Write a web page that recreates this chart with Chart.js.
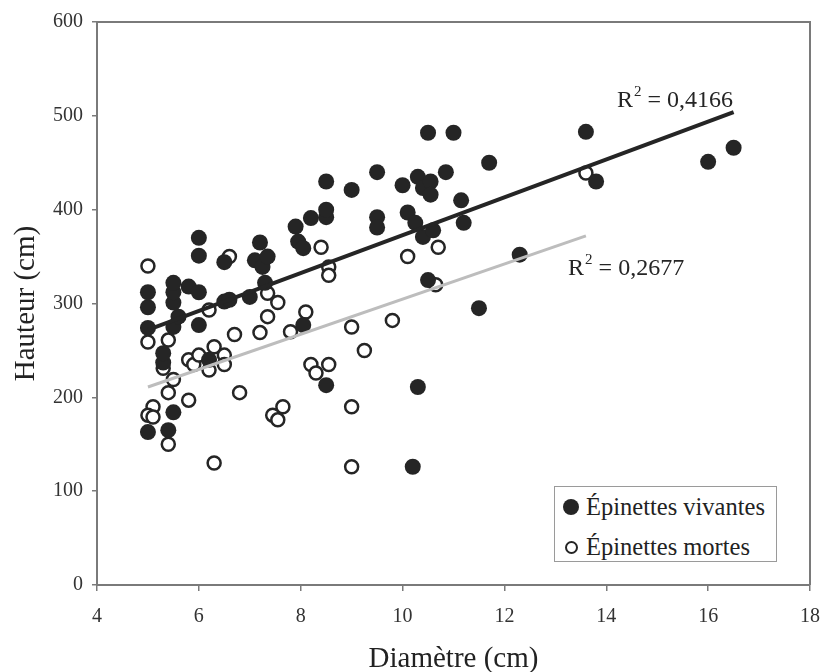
<!DOCTYPE html>
<html>
<head>
<meta charset="utf-8">
<script src="https://cdn.jsdelivr.net/npm/chart.js@4.4.0/dist/chart.umd.min.js"></script>
<style>
  body { margin: 0; background: #fff; }
  #wrap { position: relative; width: 824px; height: 672px; }
  #legend {
    position: absolute; left: 554px; top: 486px; width: 223px; height: 76px;
    border: 1px solid #9a9a9a; box-sizing: border-box; background: #fff;
    font-family: "Liberation Serif", serif; font-size: 24.5px; color: #222;
  }
  .row { position: absolute; left: 0; height: 30px; display: flex; align-items: center; white-space: nowrap; }
  .dot { border-radius: 50%; box-sizing: border-box; }
</style>
</head>
<body>
<div id="wrap">
  <canvas id="scatter" width="824" height="672"></canvas>
  <div id="legend"></div>
</div>
<script>
// Épinettes vivantes (filled)
const vivantesDiametre = [5.0, 5.4, 5.5, 5.3, 5.3, 5.0, 5.5, 5.6, 5.0, 5.5, 5.0, 5.5, 5.5, 5.8, 6.0, 6.0, 6.0, 6.0, 6.2, 6.5,
  6.6, 6.5, 7.0, 7.1, 7.2, 7.25, 7.35, 7.3, 7.9, 7.95, 8.05, 8.05, 8.2, 8.5, 8.5, 8.5, 8.5, 9.0, 9.5, 9.5,
  9.5, 10.0, 10.1, 10.25, 10.3, 10.4, 10.4, 10.55, 10.55, 10.6, 10.85, 10.5, 11.0, 11.15, 11.2, 10.5, 10.3, 10.2, 11.5, 11.7,
  12.3, 13.6, 13.8, 16.0, 16.5];
const vivantesHauteur = [163, 165, 184, 237, 247, 274, 275, 286, 296, 301, 312, 312, 322, 318, 312, 277, 351, 370, 240, 302,
  304, 344, 307, 346, 365, 339, 350, 322, 382, 366, 359, 277, 391, 392, 400, 430, 213, 421, 440, 392,
  381, 426, 397, 386, 435, 423, 371, 430, 416, 378, 440, 482, 482, 410, 386, 325, 211, 126, 295, 450,
  352, 483, 430, 451, 466];

// Épinettes mortes (open)
const mortesDiametre = [5.0, 5.0, 5.4, 5.3, 5.5, 5.4, 5.8, 5.1, 5.0, 5.1, 5.4, 5.8, 5.9, 6.0, 6.2, 6.3, 6.5, 6.5, 6.2, 6.6,
  6.7, 6.8, 6.3, 7.2, 7.35, 7.35, 7.55, 7.8, 8.1, 7.65, 7.45, 7.55, 8.2, 8.3, 8.55, 8.4, 8.55, 8.55, 9.0, 9.25,
  9.8, 9.0, 9.0, 10.1, 10.7, 10.65, 13.6];
const mortesHauteur = [340, 259, 261, 231, 219, 205, 197, 190, 181, 179, 150, 240, 235, 245, 229, 254, 245, 235, 293, 350,
  267, 205, 130, 269, 286, 311, 301, 270, 291, 190, 181, 176, 235, 226, 235, 360, 339, 330, 275, 250,
  282, 190, 126, 350, 360, 320, 439];

// trend line end points
const trendVivantes = [[5.0, 272], [16.5, 504]];
const trendMortes = [[5.0, 211], [13.6, 372]];
const r2Labels = ['0,4166', '0,2677'];

const xTicks = [4, 6, 8, 10, 12, 14, 16, 18];
const yTicks = [0, 100, 200, 300, 400, 500, 600];

const serif = '"Liberation Serif", "Times New Roman", serif';
const ink = '#252525';
const axisGrey = '#7a7a7a';

function zip(xs, ys) {
  return xs.map((x, i) => ({ x: x, y: ys[i] }));
}
function pts(arr) {
  return arr.map(p => ({ x: p[0], y: p[1] }));
}

// frame round the plot + R² labels
const extras = {
  id: 'extras',
  beforeDatasetsDraw(chart) {
    const a = chart.chartArea;
    const ctx = chart.ctx;
    ctx.save();
    ctx.strokeStyle = axisGrey;
    ctx.lineWidth = 2;
    ctx.beginPath();
    ctx.moveTo(a.left, a.top);
    ctx.lineTo(a.right, a.top);
    ctx.lineTo(a.right, a.bottom);
    ctx.stroke();
    ctx.restore();
  },
  afterDatasetsDraw(chart) {
    const ctx = chart.ctx;
    const xs = chart.scales.x, ys = chart.scales.y;
    const spots = [[14.21, 509], [13.25, 330]];
    ctx.save();
    ctx.fillStyle = ink;
    ctx.textBaseline = 'alphabetic';
    r2Labels.forEach((txt, i) => {
      let px = xs.getPixelForValue(spots[i][0]);
      const py = ys.getPixelForValue(spots[i][1]);
      ctx.font = '24px ' + serif;
      ctx.fillText('R', px, py);
      px += ctx.measureText('R').width;
      ctx.font = '15px ' + serif;
      ctx.fillText('2', px + 1, py - 11);
      px += ctx.measureText('2').width + 1;
      ctx.font = '24px ' + serif;
      ctx.fillText(' = ' + txt, px, py);
    });
    ctx.restore();
  }
};

const ctx = document.getElementById('scatter').getContext('2d');
const chart = new Chart(ctx, {
  type: 'scatter',
  data: {
    datasets: [
      {
        label: 'trend vivantes',
        type: 'line',
        data: pts(trendVivantes),
        borderColor: ink,
        borderWidth: 4,
        pointRadius: 0,
        fill: false,
        order: 0
      },
      {
        label: 'trend mortes',
        type: 'line',
        data: pts(trendMortes),
        borderColor: '#bdbdbd',
        borderWidth: 3,
        pointRadius: 0,
        fill: false,
        order: 1
      },
      {
        label: 'Épinettes vivantes',
        data: zip(vivantesDiametre, vivantesHauteur),
        backgroundColor: ink,
        borderColor: ink,
        borderWidth: 0,
        pointRadius: 8,
        order: 2
      },
      {
        label: 'Épinettes mortes',
        data: zip(mortesDiametre, mortesHauteur),
        backgroundColor: '#ffffff',
        borderColor: ink,
        borderWidth: 2.5,
        pointRadius: 6.5,
        order: 3
      }
    ]
  },
  options: {
    responsive: false,
    animation: false,
    devicePixelRatio: 1,
    layout: { padding: { top: 22, right: 14, left: 0, bottom: 0 } },
    plugins: {
      legend: { display: false },
      tooltip: { enabled: false }
    },
    scales: {
      x: {
        type: 'linear',
        min: 4, max: 18,
        afterBuildTicks: s => { s.ticks = xTicks.map(v => ({ value: v })); },
        afterFit: s => { s.height = 87; s.paddingRight = 0; s.paddingLeft = 0; },
        ticks: { font: { family: serif, size: 20 }, color: '#333', padding: 14 },
        grid: { drawOnChartArea: false, drawTicks: true, tickLength: 6, color: axisGrey, lineWidth: 1.5 },
        border: { color: axisGrey, width: 2 },
        title: { display: true, text: 'Diamètre (cm)', color: '#222', font: { family: serif, size: 29, lineHeight: 0.85 }, padding: 0 }
      },
      y: {
        min: 0, max: 600,
        afterBuildTicks: s => { s.ticks = yTicks.map(v => ({ value: v })); },
        afterFit: s => { s.width = 97; },
        ticks: { font: { family: serif, size: 20 }, color: '#333', padding: 9 },
        grid: { drawOnChartArea: false, drawTicks: true, tickLength: 5, color: axisGrey, lineWidth: 1.5 },
        border: { color: axisGrey, width: 2 },
        title: { display: true, text: 'Hauteur (cm)', color: '#222', font: { family: serif, size: 29, lineHeight: 1 }, padding: { top: 12 } }
      }
    }
  },
  plugins: [extras]
});

// legend built from the two point datasets
const legend = document.getElementById('legend');
chart.data.datasets.slice(2).forEach((ds, i) => {
  const row = document.createElement('div');
  row.className = 'row';
  row.style.top = (5 + i * 40) + 'px';
  const dot = document.createElement('span');
  dot.className = 'dot';
  const filled = i === 0;
  const d = filled ? 16 : 13;
  dot.style.width = d + 'px';
  dot.style.height = d + 'px';
  dot.style.marginLeft = (filled ? 8 : 9.5) + 'px';
  dot.style.marginRight = (filled ? 7 : 8.5) + 'px';
  dot.style.background = ds.backgroundColor;
  dot.style.border = filled ? 'none' : '2.5px solid ' + ds.borderColor;
  row.appendChild(dot);
  row.appendChild(document.createTextNode(ds.label));
  legend.appendChild(row);
});
</script>
</body>
</html>
